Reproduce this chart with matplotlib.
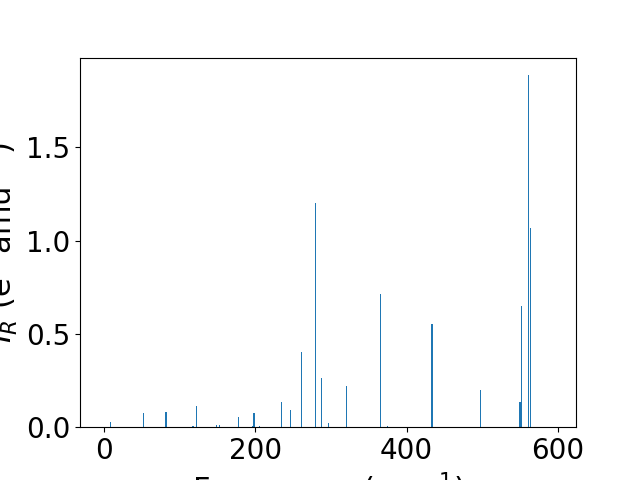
import matplotlib
matplotlib.use("Agg")
import matplotlib.pyplot as plt

freqs = [8.8, 51.6, 81.7, 117.4, 122.3, 148.0, 152.7, 178.0, 195.6, 198.2, 205.0,
         234.4, 246.8, 260.5, 280.0, 287.8, 296.5, 321.0, 365.6, 375.0, 433.5,
         498.0, 550.0, 551.9, 560.9, 564.0]
intensities = [0.027, 0.075, 0.080, 0.007, 0.114, 0.010, 0.010, 0.054, 0.006, 0.075, 0.005,
               0.134, 0.091, 0.402, 1.200, 0.263, 0.020, 0.220, 0.712, 0.006, 0.552,
               0.198, 0.134, 0.648, 1.886, 1.066]

fig, ax = plt.subplots(figsize=(6.4, 4.8), dpi=100)
ax.bar(freqs, intensities, width=1.5, color="#1f77b4")
ax.set_xlim(-32, 624)
ax.set_xticks([0, 200, 400, 600])
ax.set_yticks([0.0, 0.5, 1.0, 1.5])
ax.tick_params(labelsize=20)
ax.set_xlabel("Frequency (cm$^{-1}$)", fontsize=22)
ax.set_ylabel("$I_R$ (e$^2$ amu$^{-1}$)", fontsize=22)
fig.savefig("out.png", dpi=100)
